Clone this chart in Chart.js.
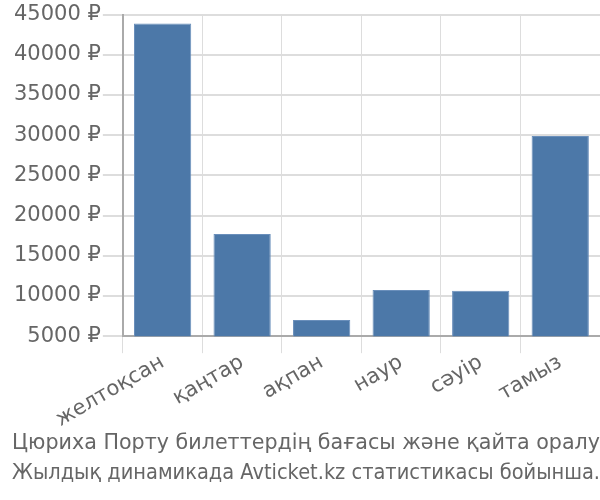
<!DOCTYPE html>
<html>
<head>
<meta charset="utf-8">
<script src="https://cdn.jsdelivr.net/npm/chart.js@4"></script>
<style>
  html, body { margin: 0; padding: 0; background: #fff; }
  #wrap { width: 600px; height: 500px; }
</style>
</head>
<body>
<div id="wrap"><canvas id="myChart"></canvas></div>
<script>
// categories (months)
const months = ["желтоқсан", "қаңтар", "ақпан", "наур", "сәуір", "тамыз"];
// ticket price, rub
const prices = [43900, 17700, 7000, 10750, 10650, 29900];
// y axis ticks
const yTicks = [5000, 10000, 15000, 20000, 25000, 30000, 35000, 40000, 45000];
const titleLines = [
  "Цюриха Порту билеттердің бағасы және қайта оралу",
  "Жылдық динамикада Avticket.kz статистикасы бойынша."
];

Chart.defaults.font.family = "'DejaVu Sans', sans-serif";
Chart.defaults.color = "#666";

new Chart("myChart", {
  type: "bar",
  data: {
    labels: months,
    datasets: [{
      data: prices,
      backgroundColor: "#4c78a8",
      borderColor: "#6a8fbb",
      borderWidth: 1
    }]
  },
  options: {
    responsive: true,
    maintainAspectRatio: false,
    animation: false,
    layout: { padding: { top: 5, right: 0, left: 12, bottom: 0 } },
    plugins: {
      legend: { display: false },
      title: {
        display: true,
        position: "bottom",
        text: titleLines,
        color: "#666",
        font: { size: 21, weight: "normal", lineHeight: 1.4 },
        padding: { top: 0, bottom: 12 }
      },
      tooltip: { enabled: false }
    },
    scales: {
      x: {
        grid: { color: "#ddd", lineWidth: 1, tickLength: 17 },
        border: { color: "#aaa", width: 2 },
        ticks: { font: { size: 21, lineHeight: 0.85 }, padding: 0, maxRotation: 30, minRotation: 30, color: "#666" }
      },
      y: {
        min: yTicks[0],
        max: yTicks[yTicks.length - 1],
        afterBuildTicks: function (axis) {
          axis.ticks = yTicks.map(function (v) { return { value: v }; });
        },
        grid: { color: "#ddd", lineWidth: 2, tickLength: 20 },
        border: { color: "#aaa", width: 2 },
        ticks: {
          font: { size: 21 },
          color: "#666",
          padding: 2,
          callback: function (v) { return v + " ₽"; }
        }
      }
    }
  }
});
</script>
</body>
</html>
